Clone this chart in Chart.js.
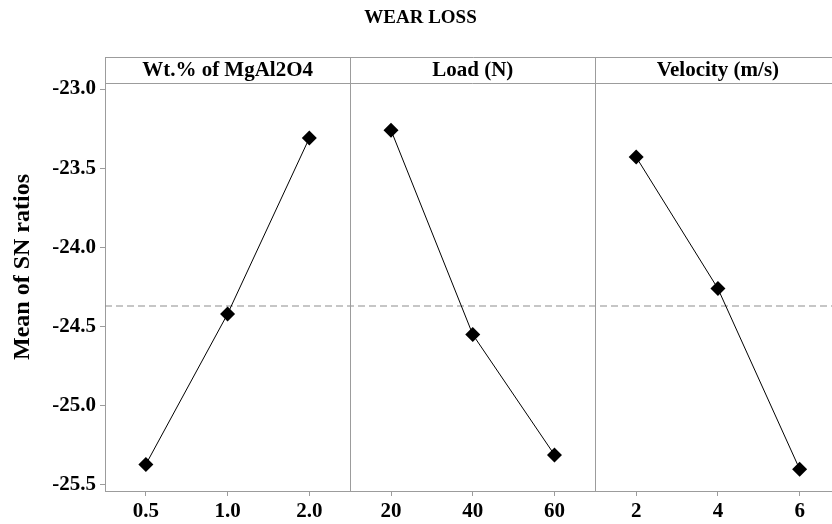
<!DOCTYPE html>
<html>
<head>
<meta charset="utf-8">
<script src="https://cdn.jsdelivr.net/npm/chart.js@4/dist/chart.umd.min.js"></script>
<style>
  html, body { margin: 0; padding: 0; background: #fff; }
  #wrap { width: 832px; height: 524px; overflow: hidden; position: relative; }
  #chart { display: block; }
</style>
</head>
<body>
<div id="wrap"><canvas id="chart" width="848" height="524"></canvas></div>
<script>
// factor levels (x tick labels per panel)
const wtLevels = ['0.5', '1.0', '2.0'];
const loadLevels = ['20', '40', '60'];
const velocityLevels = ['2', '4', '6'];
const panelTitles = ['Wt.% of MgAl2O4', 'Load (N)', 'Velocity (m/s)'];

// mean of SN ratios per level
const wtMeans = [-25.37, -24.42, -23.31];
const loadMeans = [-23.26, -24.55, -25.31];
const velocityMeans = [-23.43, -24.26, -25.40];

const yTicks = [-25.5, -25.0, -24.5, -24.0, -23.5, -23.0];
const overallMean = -24.37;
const yTitle = 'Mean of SN ratios';

const serif = '"Liberation Serif", "Times New Roman", serif';
const boxColor = '#9c9c9c';

const xLabels = [...wtLevels, ...loadLevels, ...velocityLevels];

function panelData(values, offset) {
    return values.map((v, i) => ({ x: offset + i, y: v }));
}

const seriesStyle = {
    borderColor: '#000',
    borderWidth: 1,
    backgroundColor: '#000',
    pointStyle: 'rectRot',
    pointRadius: 7.5,
    pointBorderWidth: 0,
    pointBackgroundColor: '#000',
    tension: 0
};

// header strip, panel dividers, panel titles and y axis title
const panelFrame = {
    id: 'panelFrame',
    afterDraw(chart) {
        const { ctx, chartArea } = chart;
        const xs = chart.scales.x;
        const headTop = 57;
        ctx.save();
        ctx.strokeStyle = boxColor;
        ctx.lineWidth = 1;
        ctx.beginPath();
        ctx.moveTo(chartArea.left + 0.5, headTop + 0.5);
        ctx.lineTo(chartArea.right + 0.5, headTop + 0.5);
        ctx.moveTo(chartArea.left, chartArea.top + 0.5);
        ctx.lineTo(chartArea.right, chartArea.top + 0.5);
        ctx.moveTo(chartArea.left + 0.5, headTop);
        ctx.lineTo(chartArea.left + 0.5, chartArea.top);
        ctx.moveTo(chartArea.right + 0.5, headTop);
        ctx.lineTo(chartArea.right + 0.5, chartArea.bottom);
        [2.5, 5.5].forEach(v => {
            const px = Math.round(xs.getPixelForValue(v)) + 0.5;
            ctx.moveTo(px, headTop);
            ctx.lineTo(px, chartArea.bottom);
        });
        ctx.stroke();

        ctx.fillStyle = '#000';
        ctx.font = 'bold 21px ' + serif;
        ctx.textAlign = 'center';
        ctx.textBaseline = 'middle';
        panelTitles.forEach((t, i) => {
            const cx = xs.getPixelForValue(i * 3 + 1);
            ctx.fillText(t, cx, (headTop + chartArea.top) / 2 + 1);
        });

        // y title sits a bit above the middle in the original
        ctx.translate(23, 267);
        ctx.rotate(-Math.PI / 2);
        ctx.font = 'bold 24px ' + serif;
        ctx.fillText(yTitle, 0, 0);
        ctx.restore();
    }
};

new Chart('chart', {
    type: 'line',
    data: {
        datasets: [
            { ...seriesStyle, data: panelData(wtMeans, 0) },
            { ...seriesStyle, data: panelData(loadMeans, 3) },
            { ...seriesStyle, data: panelData(velocityMeans, 6) },
            {
                data: [{ x: -0.5, y: overallMean }, { x: 8.5, y: overallMean }],
                borderColor: '#8e8e8e',
                borderWidth: 1.2,
                borderDash: [7, 4],
                pointRadius: 0
            }
        ]
    },
    options: {
        responsive: false,
        animation: false,
        layout: { padding: { left: 0, right: 7, top: 0, bottom: 0 } },
        plugins: {
            legend: { display: false },
            tooltip: { enabled: false },
            title: {
                display: true,
                text: 'WEAR LOSS',
                color: '#000',
                font: { family: serif, size: 19, weight: 'bold' },
                padding: { top: 7, bottom: 53.2 }
            }
        },
        scales: {
            x: {
                type: 'linear',
                min: -0.5,
                max: 8.5,
                afterBuildTicks: s => { s.ticks = xLabels.map((_, i) => ({ value: i })); },
                afterFit: s => { s.height = 33; },
                ticks: {
                    autoSkip: false,
                    maxRotation: 0,
                    padding: 3,
                    color: '#000',
                    font: { family: serif, size: 21, weight: 'bold' },
                    callback: v => xLabels[v]
                },
                grid: { drawOnChartArea: false, drawTicks: true, tickLength: 5, color: boxColor },
                border: { display: true, color: boxColor, width: 1 }
            },
            y: {
                min: -25.538,
                max: -22.962,
                afterBuildTicks: s => { s.ticks = yTicks.map(v => ({ value: v })); },
                afterFit: s => { s.width = 105; },
                ticks: {
                    padding: 4,
                    color: '#000',
                    font: { family: serif, size: 21, weight: 'bold' },
                    callback: v => v.toFixed(1)
                },
                grid: { drawOnChartArea: false, drawTicks: true, tickLength: 5, color: boxColor },
                border: { display: true, color: boxColor, width: 1 }
            }
        }
    },
    plugins: [panelFrame]
});
</script>
</body>
</html>
